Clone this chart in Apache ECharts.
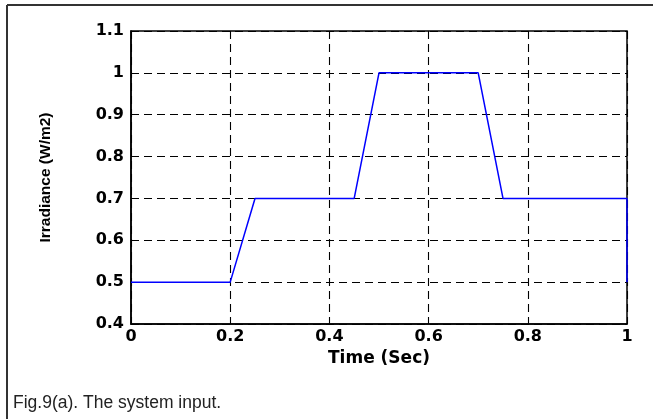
<!DOCTYPE html>
<html>
<head>
<meta charset="utf-8">
<script src="https://cdn.jsdelivr.net/npm/echarts@6/dist/echarts.min.js"></script>
<style>
  html, body { margin: 0; padding: 0; background: #fff; }
  #chart { width: 653px; height: 419px; }
</style>
</head>
<body>
<div id="chart"></div>
<script>
// Irradiance profile applied as the system input
const timeSec = [0, 0.2, 0.25, 0.45, 0.5, 0.7, 0.75, 1, 1];
const irradiance = [0.5, 0.5, 0.7, 0.7, 1, 1, 0.7, 0.7, 0.5];
const xTicks = [0, 0.2, 0.4, 0.6, 0.8, 1];
const yTicks = [0.4, 0.5, 0.6, 0.7, 0.8, 0.9, 1, 1.1];

const chart = echarts.init(document.getElementById('chart'), null, { renderer: 'canvas' });

const tickFont = {
  color: '#000',
  fontFamily: '"DejaVu Sans", sans-serif',
  fontWeight: 'bold',
  fontSize: 16
};
const gridLine = {
  show: true,
  lineStyle: { color: '#000', width: 1.1, type: [8, 5] }
};

chart.setOption({
  animation: false,
  backgroundColor: '#fff',
  grid: {
    left: 131, top: 31, width: 496, height: 293,
    show: true, borderColor: '#000', borderWidth: 1.5, backgroundColor: 'transparent'
  },
  xAxis: {
    type: 'value',
    min: xTicks[0], max: xTicks[xTicks.length - 1], interval: 0.2,
    name: 'Time (Sec)',
    nameLocation: 'middle',
    nameGap: 22,
    nameTextStyle: { color: '#000', fontFamily: '"DejaVu Sans", sans-serif', fontWeight: 'bold', fontSize: 17 },
    axisLine: { show: true, lineStyle: { color: '#000', width: 1.5 } },
    axisTick: { show: true, inside: true, length: 4, lineStyle: { color: '#000' } },
    axisLabel: Object.assign({ margin: 5, formatter: v => String(+v.toFixed(2)) }, tickFont),
    splitLine: gridLine
  },
  yAxis: {
    type: 'value',
    min: yTicks[0], max: yTicks[yTicks.length - 1], interval: 0.1,
    name: 'Irradiance (W/m2)',
    nameLocation: 'middle',
    nameGap: 77,
    nameRotate: 90,
    nameTextStyle: { color: '#000', fontFamily: '"Liberation Sans", Arial, sans-serif', fontWeight: 'bold', fontSize: 15.5 },
    axisLine: { show: true, lineStyle: { color: '#000', width: 1.5 } },
    axisTick: { show: true, inside: true, length: 4, lineStyle: { color: '#000' } },
    axisLabel: Object.assign({ margin: 7, formatter: v => String(+v.toFixed(2)) }, tickFont),
    splitLine: gridLine
  },
  series: [{
    type: 'line',
    data: timeSec.map((t, i) => [t, irradiance[i]]),
    showSymbol: false,
    lineStyle: { color: '#0000ff', width: 1.5 },
    clip: false
  }],
  graphic: [
    { type: 'line', shape: { x1: 7, y1: 5, x2: 653, y2: 5 }, style: { stroke: '#333', lineWidth: 2 } },
    { type: 'line', shape: { x1: 7, y1: 5, x2: 7, y2: 419 }, style: { stroke: '#333', lineWidth: 2 } },
    {
      type: 'text', left: 13, top: 394,
      style: { text: 'Fig.9(a). The system input.', fill: '#222', font: '17.5px "Liberation Sans", Arial, sans-serif' }
    }
  ]
});
</script>
</body>
</html>
